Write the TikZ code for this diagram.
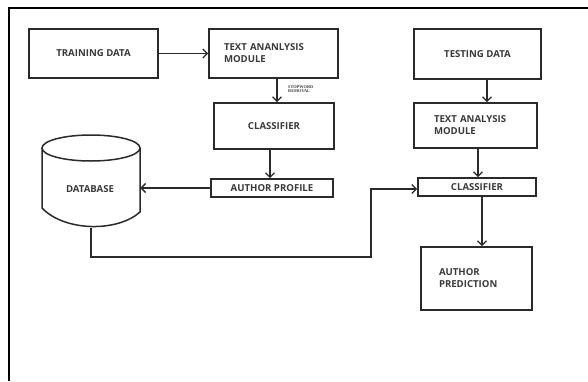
\documentclass[tikz,border=0pt]{standalone}
\usepackage{fontspec}
\setmainfont{Open Sans}
\newfontfamily\serifb{Liberation Serif}
\usetikzlibrary{arrows.meta}
\definecolor{linec}{HTML}{2A2A2A}
\definecolor{textc}{HTML}{3A3A3A}
\begin{document}
\begin{tikzpicture}[x=1pt,y=-1pt,
  box/.style={draw=linec, line width=1.6pt, inner sep=0pt, font=\fontsize{9.6}{12}\selectfont\bfseries, text=textc},
  lbox/.style={box, align=left},
  arr/.style={draw=linec, line width=1.5pt, -{Straight Barb[length=4.5pt,width=9pt,line width=1.3pt]}},
  plain/.style={draw=linec, line width=1.5pt},
]
\useasboundingbox (0,0) rectangle (588,381);
\fill[white] (0,0) rectangle (588,381);
\draw[line width=2.2pt, black] (588,8) -- (9,8) -- (9,381);

\node[box, minimum width=129pt, minimum height=49pt] (train) at (93.5,53.5) {TRAINING DATA};
\node[lbox, minimum width=129pt, minimum height=49pt, text width=99pt] (ta1) at (273.5,53.5) {TEXT ANANLYSIS\\MODULE};
\node[box, minimum width=120pt, minimum height=46pt] (cl1) at (274,126) {CLASSIFIER};
\node[box, minimum width=122pt, minimum height=18pt] (ap) at (272,188) {AUTHOR PROFILE};
\node[box, minimum width=127pt, minimum height=50pt] (test) at (477.5,54) {TESTING DATA};
\node[lbox, minimum width=123pt, minimum height=45pt, text width=83pt] (ta2) at (475.5,125.5) {TEXT ANALYSIS\\MODULE};
\node[box, minimum width=118pt, minimum height=18pt] (cl2) at (477,187) {CLASSIFIER};
\node[lbox, minimum width=111pt, minimum height=63pt, text width=75pt] (pred) at (476.5,278.5) {AUTHOR\\PREDICTION};

% database cylinder
\node[minimum width=98pt, minimum height=93pt, inner sep=0pt] (db) at (91,181.5) {};
\draw[plain] (42,148) -- (42,208) .. controls (65,232) and (118,232) .. (140,212) -- (140,148);
\draw[plain] (91,148) ellipse [x radius=49pt, y radius=13pt];
\node[font=\fontsize{9.6}{12}\selectfont\bfseries, text=textc] (dbl) at (90,189) {DATABASE};

\node[anchor=north west, align=left, inner sep=0pt, font=\serifb\bfseries\fontsize{4.3}{4.8}\selectfont, text=textc] (stop) at (288,85) {STOPWORD\\REMOVAL};

\coordinate (jog) at (371,257);

\draw[arr] (train.east) -- (ta1.west);
\draw[arr] ([xshift=3.5pt]ta1.south) -- ([xshift=3.5pt]ta1.south |- cl1.north);
\draw[arr] ([xshift=-4pt]cl1.south) -- ([xshift=-4pt]cl1.south |- ap.north);
\draw[arr] (ap.west) -- (ap.west -| db.east);
\draw[arr] ([xshift=9.5pt]test.south) -- ([xshift=9.5pt]test.south |- ta2.north);
\draw[arr] ([xshift=2.5pt]ta2.south) -- ([xshift=2.5pt]ta2.south |- cl2.north);
\draw[arr] ([xshift=5pt]cl2.south) -- ([xshift=5pt]cl2.south |- pred.north);
\draw[arr] (db.south) |- (jog) |- ([yshift=-2pt]cl2.west);
\end{tikzpicture}
\end{document}
